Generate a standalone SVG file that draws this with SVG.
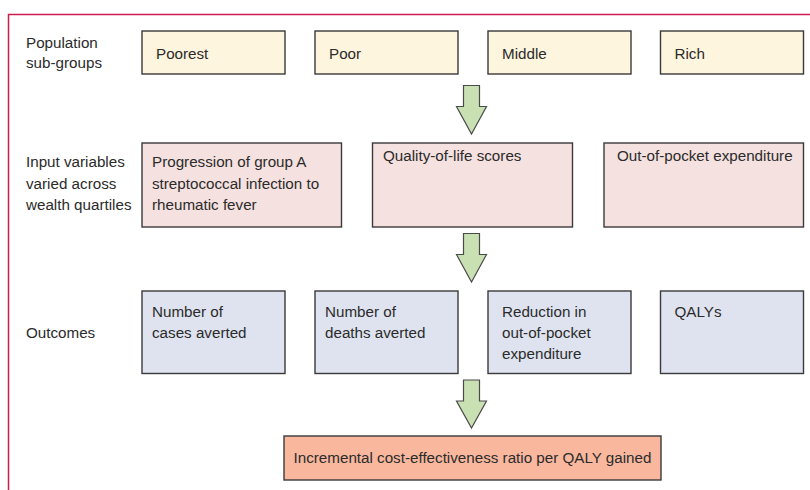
<svg xmlns="http://www.w3.org/2000/svg" width="810" height="490" viewBox="0 0 810 490">
<style>
text{font-family:"Liberation Sans",Arial,sans-serif;font-size:15.2px;fill:#2b2b2b}
.box{stroke:#3a3a3a;stroke-width:1.4}
.r1{fill:#fdf5dd}
.r2{fill:#f5e1df}
.r3{fill:#dee3ef}
.fin{fill:#f9b89e}
.arrow{fill:#c9e0b3;stroke:#4a4a4a;stroke-width:1.2;stroke-linejoin:miter}
.frame{fill:none;stroke:#cc1d50;stroke-width:1.5}
</style>
<rect width="810" height="490" fill="#ffffff"/>
<path class="frame" d="M8.5,490 V14.5 H810"/>
<g id="labels">
<text x="26" y="47.5">Population</text>
<text x="26" y="67.5">sub-groups</text>
<text x="26" y="167">Input variables</text>
<text x="26" y="188.5">varied across</text>
<text x="26" y="210">wealth quartiles</text>
<text x="26" y="337.5">Outcomes</text>
</g>
<g id="poorest"><rect class="box r1" x="142" y="31" width="143" height="43"/><text x="156" y="58.5">Poorest</text></g>
<g id="poor"><rect class="box r1" x="315" y="31" width="143" height="43"/><text x="329" y="58.5">Poor</text></g>
<g id="middle"><rect class="box r1" x="488" y="31" width="143" height="43"/><text x="502" y="58.5">Middle</text></g>
<g id="rich"><rect class="box r1" x="660.5" y="31" width="143" height="43"/><text x="674.5" y="58.5">Rich</text></g>
<g id="progression"><rect class="box r2" x="142" y="143" width="199.5" height="84"/><text x="152" y="167">Progression of group A</text><text x="152" y="188.5">streptococcal infection to</text><text x="152" y="210">rheumatic fever</text></g>
<g id="qol"><rect class="box r2" x="372.5" y="143" width="200" height="84"/><text x="383" y="160.5">Quality-of-life scores</text></g>
<g id="oop"><rect class="box r2" x="604" y="143" width="199.5" height="84"/><text x="617" y="160.5">Out-of-pocket expenditure</text></g>
<g id="cases"><rect class="box r3" x="142" y="291" width="143" height="82.5"/><text x="152" y="316.5">Number of</text><text x="152" y="337.5">cases averted</text></g>
<g id="deaths"><rect class="box r3" x="315" y="291" width="143" height="82.5"/><text x="325" y="316.5">Number of</text><text x="325" y="337.5">deaths averted</text></g>
<g id="reduction"><rect class="box r3" x="488" y="291" width="143" height="82.5"/><text x="502" y="316.5">Reduction in</text><text x="502" y="337.5">out-of-pocket</text><text x="502" y="358.5">expenditure</text></g>
<g id="qalys"><rect class="box r3" x="660.5" y="291" width="143" height="82.5"/><text x="674.5" y="316.5">QALYs</text></g>
<g id="icer"><rect class="box fin" x="284" y="436" width="377" height="44"/><text x="472.5" y="463" text-anchor="middle">Incremental cost-effectiveness ratio per QALY gained</text></g>
<g id="connectors">
<polygon class="arrow" points="463.5,85.5 479.5,85.5 479.5,106.5 486.5,106.5 471.5,134 456.5,106.5 463.5,106.5"/>
<polygon class="arrow" points="463.5,233.5 479.5,233.5 479.5,254.5 486.5,254.5 471.5,282 456.5,254.5 463.5,254.5"/>
<polygon class="arrow" points="463.5,380 479.5,380 479.5,401 486.5,401 471.5,428 456.5,401 463.5,401"/>
</g>
</svg>
